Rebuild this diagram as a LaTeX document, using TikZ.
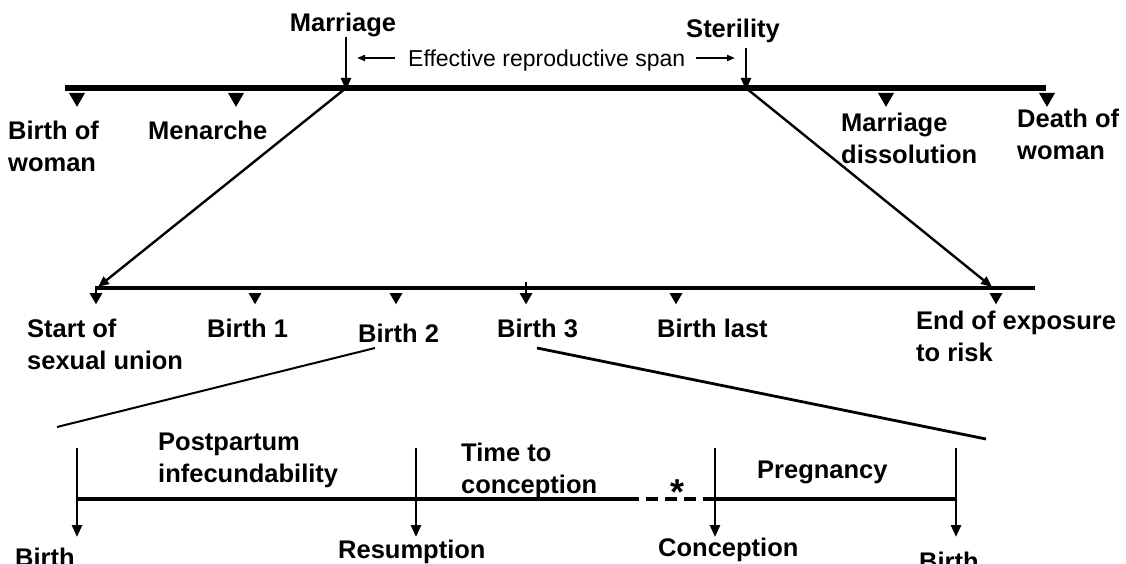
\documentclass[tikz,border=0pt]{standalone}
\usepackage{fontspec}
\setmainfont{Liberation Sans}
\usetikzlibrary{arrows.meta,shapes.geometric}

\begin{document}
\begin{tikzpicture}[x=1pt,y=-1pt,
            lbl/.style={anchor=north west,inner sep=0pt,align=left,font=\fontsize{25.5}{32}\selectfont\bfseries},
            tri/.style={regular polygon,regular polygon sides=3,shape border rotate=180,fill=black,inner sep=0pt,minimum size=18.5pt},
            small tri/.style={tri,minimum size=15pt},
            arr/.style={line width=2.6pt,-{Triangle[width=10pt,length=12pt]}},
            diag arr/.style={line width=2.4pt,-{Triangle[width=9pt,length=11pt]}},
            span arr/.style={line width=1.8pt,-{Triangle[width=6pt,length=8pt]}},
            ]
            \useasboundingbox (0,0) rectangle (1126,564);

            % life course of the woman
            \coordinate (t0) at (65,88);
            \coordinate (t1) at (1046,88);
            \coordinate (mt) at (346,88);
            \coordinate (st) at (746,88);
            \draw[line width=6.5pt] (t0) -- (t1);

            \node[tri] (bw) at (77,97.6) {};
            \node[tri] (mn) at (236,97.6) {};
            \node[tri] (md) at (886,97.6) {};
            \node[tri] (dw) at (1047,97.6) {};

            \node[lbl] (bwl) at (8,121) {Birth of\\woman};
            \node[lbl] (mnl) at (148,121) {Menarche};
            \node[lbl] (mdl) at (841,113) {Marriage\\dissolution};
            \node[lbl] (dwl) at (1017,109) {Death of\\woman};

            \node[lbl,anchor=north] (marr) at (343,13) {Marriage};
            \node[lbl,anchor=north] (ster) at (733,19) {Sterility};
            \coordinate (mtop) at (346,37);
            \coordinate (stop) at (746,48);
            \draw[arr] (mtop) -- ([yshift=-2pt]mt);
            \draw[arr] (stop) -- ([yshift=-2pt]st);

            \node[anchor=north west,inner sep=0pt,font=\fontsize{23}{28}\selectfont] (eff) at (408,50) {Effective reproductive span};
            \coordinate (ea1) at (395,58);
            \coordinate (ea2) at (357,58);
            \coordinate (eb1) at (696,58);
            \coordinate (eb2) at (735,58);
            \draw[span arr] (ea1) -- (ea2);
            \draw[span arr] (eb1) -- (eb2);

            % exposure to risk
            \coordinate (u0) at (96,288);
            \coordinate (u1) at (1035,288);
            \coordinate (su) at (98,287);
            \coordinate (ee) at (992,287);
            \draw[line width=4.5pt] (u0) -- (u1);
            \draw[diag arr] (mt) -- (su);
            \draw[diag arr] (st) -- (ee);

            \node[small tri] (s0) at (96,296.75) {};
            \node[small tri] (s1) at (255,296.75) {};
            \node[small tri] (s2) at (396,296.75) {};
            \node[small tri] (s3) at (526,296.75) {};
            \node[small tri] (s4) at (676,296.75) {};
            \node[small tri] (s5) at (996,296.75) {};
            \draw[line width=2.5pt] (96,286) -- (s0.north);
            \draw[line width=2.5pt] (526,282) -- (s3.north);

            \node[lbl] (s0l) at (27,319) {Start of\\sexual union};
            \node[lbl] (s1l) at (207,319) {Birth 1};
            \node[lbl] (s2l) at (358,324) {Birth 2};
            \node[lbl] (s3l) at (497,319) {Birth 3};
            \node[lbl] (s4l) at (657,319) {Birth last};
            \node[lbl] (s5l) at (916,311) {End of exposure\\to risk};

            % one birth interval
            \coordinate (z2) at (375,348);
            \coordinate (z2b) at (57,427);
            \coordinate (z3) at (537,348);
            \coordinate (z3b) at (986,439);
            \draw[line width=2pt] (z2) -- (z2b);
            \draw[line width=2.8pt] (z3) -- (z3b);

            \coordinate (i0) at (77,499);
            \coordinate (i1) at (416,499);
            \coordinate (i2) at (627,499);
            \coordinate (i3) at (715,499);
            \coordinate (i4) at (956,499);
            \draw[line width=3.5pt] (i0) -- (i2);
            \draw[line width=4pt,dash pattern=on 12pt off 7pt] (i2) -- (i3);
            \draw[line width=3.5pt] (i3) -- (i4);

            \draw[arr] (77,448) -- (77,537);
            \draw[arr] (416,448) -- (416,537);
            \draw[arr] (715,448) -- (715,537);
            \draw[arr] (956,448) -- (956,537);

            \node[inner sep=0pt,anchor=base,font=\fontsize{36}{36}\selectfont\bfseries] (star) at (677,504) {*};

            \node[lbl] (pp) at (158,433) {Postpartum\\infecundability};
            \node[lbl] (tc) at (461,443) {Time to\\conception};
            \node[lbl] (pg) at (757,461) {Pregnancy};

            \node[lbl] (b0) at (15,548) {Birth};
            \node[lbl] (rs) at (338,540) {Resumption};
            \node[lbl] (cc) at (658,538) {Conception};
            \node[lbl] (b1) at (919,552) {Birth};
        \end{tikzpicture}
\end{document}
